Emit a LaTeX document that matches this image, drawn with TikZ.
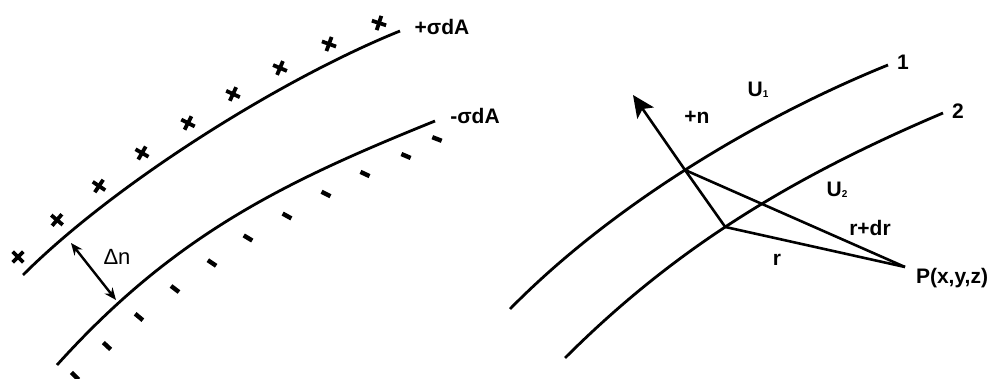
\documentclass[tikz,border=0pt]{standalone}
\usepackage{fontspec}
\setmainfont{Liberation Sans}
\usetikzlibrary{arrows.meta}
\begin{document}
\begin{tikzpicture}[x=1pt,y=-1pt,line width=2.8pt,
  lbl/.style={font=\fontsize{21}{21}\selectfont\bfseries,inner sep=0pt},
  lblr/.style={font=\fontsize{22}{22}\selectfont,inner sep=0pt},
  curve/.style={line width=2.8pt},
  thin/.style={line width=2.6pt},
  plusarm/.style={line width=3.8pt},
  minusbar/.style={line width=4.4pt}]
\useasboundingbox (0,0) rectangle (991,379);

% ---------- left: charged double layer ----------
\draw[curve] (23,275) .. controls (113.2,184.8) and (279.1,79.9) .. (400,31);
\draw[curve] (57,365) .. controls (175.6,233.3) and (287.1,180.8) .. (435,121);

% plus marks
\foreach \x/\y/\a in {18/257/45, 57/220/40, 99/186/34, 142/153/30, 188/123/27, 233/94/25, 280/68/23, 329/44/20, 379/23/18}{
  \begin{scope}[shift={(\x,\y)},rotate=-\a]
    \draw[plusarm] (-7.5,0) -- (7.5,0);
    \draw[plusarm] (0,-7.5) -- (0,7.5);
  \end{scope}
}
% minus marks
\foreach \x/\y/\a in {75/376/45, 107/346/43, 139/317/40, 175/289/37, 212/263/34, 248/238/31, 287/216/29, 326/194/27, 365/174/25, 406/156/23, 437/139/21}{
  \begin{scope}[shift={(\x,\y)},rotate=-\a]
    \draw[minusbar] (-5,0) -- (5,0);
  \end{scope}
}

\coordinate (d1) at (71,243);
\coordinate (d2) at (116,300);
\draw[line width=2.4pt,{Stealth[length=12pt,width=10pt]}-{Stealth[length=12pt,width=10pt]}] (d1) -- (d2);

\node[lbl] (pl) at (442,27) {+σdA};
\node[lbl] (mi) at (475,116) {-σdA};
\node[lblr] (dn) at (117,257) {Δn};

% ---------- right: potential surfaces ----------
\draw[curve] (510,309) .. controls (608.3,208.8) and (752.4,119.9) .. (888,65) coordinate[pos=0.5] (A);
\draw[curve] (565,358) .. controls (676.4,246.6) and (794.3,176.1) .. (943,113) coordinate[pos=0.46] (B);
\coordinate (P) at (905,267);
\coordinate (T) at (633,95);

\draw[thin,-{Stealth[length=22pt,width=20pt,inset=5pt]}] (A) -- (T);
\draw[thin] (A) -- (B);
\draw[thin] (A) -- (P);
\draw[thin] (B) -- (P);

\node[lbl] (n1) at (903,62) {1};
\node[lbl] (n2) at (958,111) {2};
\node[lbl] (pn) at (697,117) {+n};
\node[lbl] (u1) at (758,90) {U\raisebox{-1pt}{\fontsize{10}{10}\selectfont 1}};
\node[lbl] (u2) at (837,190) {U\raisebox{-1pt}{\fontsize{10}{10}\selectfont 2}};
\node[lbl] (rdr) at (870,228) {r+dr};
\node[lbl] (r) at (777,260) {r};
\node[lbl] (pxyz) at (952,278) {P(x,y,z)};
\end{tikzpicture}
\end{document}
